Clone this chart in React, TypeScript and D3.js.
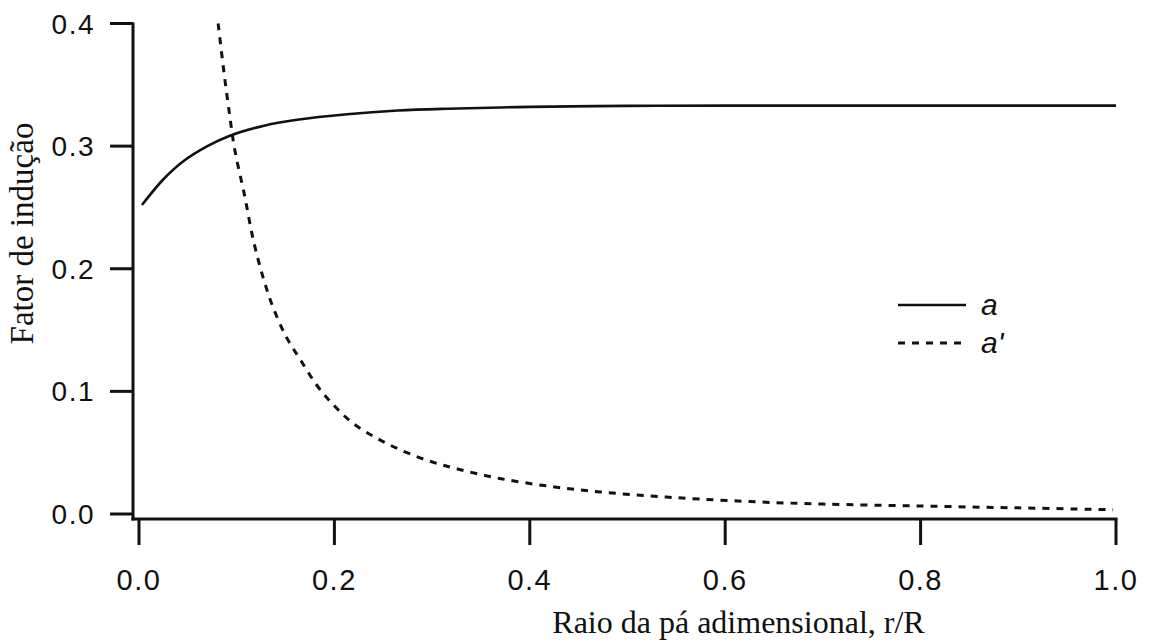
import React from "react";
import * as d3 from "d3";

// Induction factors along the blade
const aRadius = [0.003, 0.025, 0.045, 0.07, 0.093, 0.127, 0.162, 0.213, 0.265, 0.316, 0.4, 0.5, 0.6, 0.8, 1.0];
const aValues = [0.252, 0.273, 0.2875, 0.3, 0.3085, 0.3165, 0.3215, 0.326, 0.329, 0.3305, 0.332, 0.3328, 0.333, 0.333, 0.333];

const aPrimeRadius = [0.081, 0.087, 0.093, 0.098, 0.108, 0.117, 0.127, 0.137, 0.151, 0.165, 0.182, 0.199, 0.219, 0.243, 0.267, 0.296, 0.327, 0.369, 0.421, 0.472, 0.523, 0.574, 0.635, 0.7, 0.8, 0.9, 0.997];
const aPrimeValues = [0.4, 0.36, 0.324, 0.297, 0.26, 0.2235, 0.193, 0.169, 0.144, 0.126, 0.105, 0.089, 0.074, 0.062, 0.0525, 0.0435, 0.0365, 0.029, 0.0225, 0.018, 0.0147, 0.0122, 0.0098, 0.0081, 0.0065, 0.005, 0.0035];

const xTicks = [0, 0.2, 0.4, 0.6, 0.8, 1.0];
const yTicks = [0, 0.1, 0.2, 0.3, 0.4];

const xTitle = "Raio da pá adimensional, r/R";
const yTitle = "Fator de indução";

const W = 1149;
const H = 644;

export default function App() {
  const x = d3.scaleLinear().domain([0, 1]).range([139, 1116]);
  const y = d3.scaleLinear().domain([0, 0.4]).range([514, 23.5]);

  const axisX = 133; // vertical axis sits left of x = 0
  const axisY = 519; // horizontal axis sits below y = 0

  const lineA = d3
    .line<[number, number]>()
    .x((d) => x(d[0]))
    .y((d) => y(d[1]))
    .curve(d3.curveCatmullRom.alpha(0.5));

  const lineAp = d3
    .line<[number, number]>()
    .x((d) => x(d[0]))
    .y((d) => y(d[1]))
    .curve(d3.curveCatmullRom.alpha(0.5));

  const aPts = aRadius.map((r, i) => [r, aValues[i]] as [number, number]);
  const apPts = aPrimeRadius.map((r, i) => [r, aPrimeValues[i]] as [number, number]);

  const sans = "'Liberation Sans', Arial, Helvetica, sans-serif";
  const serif = "'Liberation Serif', 'Times New Roman', serif";

  return (
    <svg
      width={W}
      height={H}
      style={{ position: "absolute", left: 0, top: 0, background: "#fff" }}
    >
      {/* axes */}
      <line x1={axisX} x2={axisX} y1={y(0.4) - 1} y2={axisY + 1.5} stroke="#111" strokeWidth={3} />
      <line x1={axisX - 1.5} x2={x(1) + 1.5} y1={axisY} y2={axisY} stroke="#111" strokeWidth={3} />

      {yTicks.map((t) => (
        <g key={"y" + t}>
          <line x1={110} x2={axisX} y1={y(t)} y2={y(t)} stroke="#111" strokeWidth={3} />
          <text
            x={95}
            y={y(t) + 10}
            textAnchor="end"
            fontFamily={sans}
            fontSize={28}
            letterSpacing={1.5}
            fill="#111"
          >
            {t.toFixed(1)}
          </text>
        </g>
      ))}

      {xTicks.map((t) => (
        <g key={"x" + t}>
          <line x1={x(t)} x2={x(t)} y1={axisY} y2={545} stroke="#111" strokeWidth={3} />
          <text
            x={x(t)}
            y={590}
            textAnchor="middle"
            fontFamily={sans}
            fontSize={29}
            letterSpacing={1.5}
            fill="#111"
          >
            {t.toFixed(1)}
          </text>
        </g>
      ))}

      {/* curves */}
      <path d={lineA(aPts) ?? ""} fill="none" stroke="#111" strokeWidth={2.6} />
      <path
        d={lineAp(apPts) ?? ""}
        fill="none"
        stroke="#111"
        strokeWidth={3}
        strokeDasharray="7,7"
      />

      {/* legend */}
      <line x1={898} x2={966} y1={305} y2={305} stroke="#111" strokeWidth={2.6} />
      <text x={981} y={315} fontFamily={sans} fontStyle="italic" fontSize={30} fill="#111">
        a
      </text>
      <line x1={898} x2={966} y1={343} y2={343} stroke="#111" strokeWidth={3} strokeDasharray="7,7" />
      <text x={981} y={353} fontFamily={sans} fontStyle="italic" fontSize={30} fill="#111">
        a'
      </text>

      {/* axis titles */}
      <text x={738.5} y={633} textAnchor="middle" fontFamily={serif} fontSize={32} fill="#111">
        {xTitle}
      </text>
      <text
        transform={`translate(33, 233.5) rotate(-90)`}
        textAnchor="middle"
        fontFamily={serif}
        fontSize={33}
        fill="#111"
      >
        {yTitle}
      </text>
    </svg>
  );
}
